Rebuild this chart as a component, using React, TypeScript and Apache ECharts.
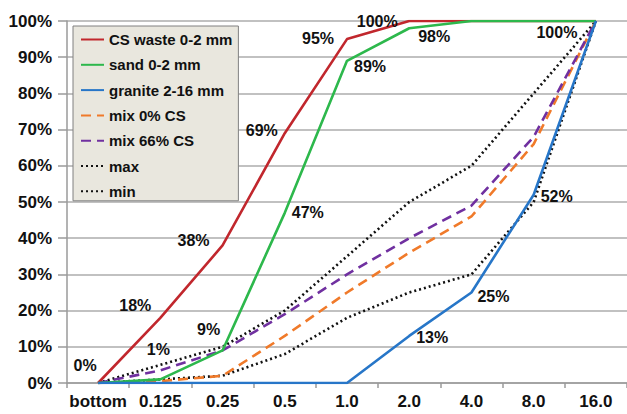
import React, { useEffect, useRef } from "react";
import * as echarts from "echarts";

const categories = ["bottom", "0.125", "0.25", "0.5", "1.0", "2.0", "4.0", "8.0", "16.0"];
const csWaste = [0, 18, 38, 69, 95, 100, 100, 100, 100];
const sand = [0, 1, 9, 47, 89, 98, 100, 100, 100];
const granite = [0, 0, 0, 0, 0, 13, 25, 52, 100];
const mix0 = [0, 0.5, 2, 13, 25, 36, 46, 66, 100];
const mix66 = [0, 3.5, 9, 19, 30, 40, 49, 68, 100];
const maxLimit = [0, 5, 10, 20, 35, 50, 60, 80, 100];
const minLimit = [0, 1, 2, 8, 18, 25, 30, 50, 100];

const seriesNames = ["CS waste 0-2 mm", "sand 0-2 mm", "granite 2-16 mm", "mix 0% CS", "mix 66% CS", "max", "min"];

// which points carry a value label
const csWasteLabelIdx = [0, 1, 2, 3, 4, 5];
const sandLabelIdx = [1, 2, 3, 4, 5];
const graniteLabelIdx = [5, 6, 7, 8];

// label offsets (style)
const csWasteLabelOffsets = [[-13, -18], [-25, -12], [-29, -5], [-23, -3], [-29, -1], [-32, 0]];
const sandLabelOffsets = [[-2, -30], [-14, -21], [23, 0], [23, 6], [25, 8]];
const graniteLabelOffsets = [[23, 2], [22, 4], [23, 2], [-39, 11]];

const FONT = 'Arial, "Liberation Sans", sans-serif';

function labelSeries(name: string, values: number[], idx: number[], offsets: number[][]) {
  return {
    name,
    type: "scatter",
    symbol: "circle",
    symbolSize: 1,
    itemStyle: { color: "transparent", opacity: 1 },
    z: 10,
    silent: true,
    data: idx.map((i, k) => ({
      value: [i, values[i]],
      label: { offset: offsets[k] },
    })),
    label: {
      show: true,
      position: "inside",
      formatter: (p: any) => `${p.value[1]}%`,
      fontFamily: FONT,
      fontWeight: "bold",
      fontSize: 16,
      color: "#111",
      opacity: 1,
    },
  };
}

export default function App() {
  const ref = useRef<HTMLDivElement>(null);
  useEffect(() => {
    if (!ref.current) return;
    const chart = echarts.init(ref.current, null, { renderer: "svg" });
    const lineBase = (name: string, data: number[], color: string, type: any, width = 2.6) => ({
      name,
      type: "line",
      data,
      symbol: "none",
      showSymbol: false,
      lineStyle: { color, width, type },
      itemStyle: { color },
      z: 3,
    });
    chart.setOption({
      animation: false,
      backgroundColor: "#ffffff",
      grid: { left: 67, top: 21, width: 566, height: 362, containLabel: false },
      legend: {
        data: seriesNames,
        orient: "vertical",
        left: 73,
        top: 26,
        itemWidth: 23,
        itemHeight: 14,
        itemGap: 10.3,
        padding: [6, 6, 2, 7],
        backgroundColor: "#E9E7DE",
        borderColor: "#808080",
        borderWidth: 1,
        itemStyle: { opacity: 0 },
        textStyle: { fontFamily: FONT, fontWeight: "bold", fontSize: 15, color: "#111" },
      },
      xAxis: {
        type: "category",
        data: categories,
        boundaryGap: true,
        axisLine: { lineStyle: { color: "#9A9A9A", width: 1.5 } },
        axisTick: { show: true, length: 5, lineStyle: { color: "#9A9A9A", width: 1.5 } },
        axisLabel: { interval: 0, fontFamily: FONT, fontWeight: "bold", fontSize: 17, color: "#111", margin: 10 },
        splitLine: { show: false },
      },
      yAxis: {
        type: "value",
        min: 0,
        max: 100,
        interval: 10,
        axisLine: { show: true, lineStyle: { color: "#9A9A9A", width: 1.5 } },
        axisTick: { show: true, length: 9, lineStyle: { color: "#9A9A9A", width: 1.5 } },
        axisLabel: { formatter: "{value}%", fontFamily: FONT, fontWeight: "bold", fontSize: 17, color: "#111", margin: 15 },
        splitLine: { show: true, lineStyle: { color: "#ADADAD", width: 1.5 } },
      },
      series: [
        lineBase(seriesNames[5], maxLimit, "#111111", [2, 3]),
        lineBase(seriesNames[6], minLimit, "#111111", [2, 3]),
        lineBase(seriesNames[3], mix0, "#F07A2A", [10, 6]),
        lineBase(seriesNames[4], mix66, "#7030A0", [10, 6]),
        lineBase(seriesNames[0], csWaste, "#C1272D", "solid"),
        lineBase(seriesNames[1], sand, "#2DB84C", "solid"),
        lineBase(seriesNames[2], granite, "#2776C8", "solid"),
        labelSeries("lbl-cs", csWaste, csWasteLabelIdx, csWasteLabelOffsets),
        labelSeries("lbl-sand", sand, sandLabelIdx, sandLabelOffsets),
        labelSeries("lbl-granite", granite, graniteLabelIdx, graniteLabelOffsets),
      ],
    });
    return () => chart.dispose();
  }, []);
  return <div ref={ref} style={{ position: "fixed", left: 0, top: 0, width: 627, height: 414 }} />;
}
